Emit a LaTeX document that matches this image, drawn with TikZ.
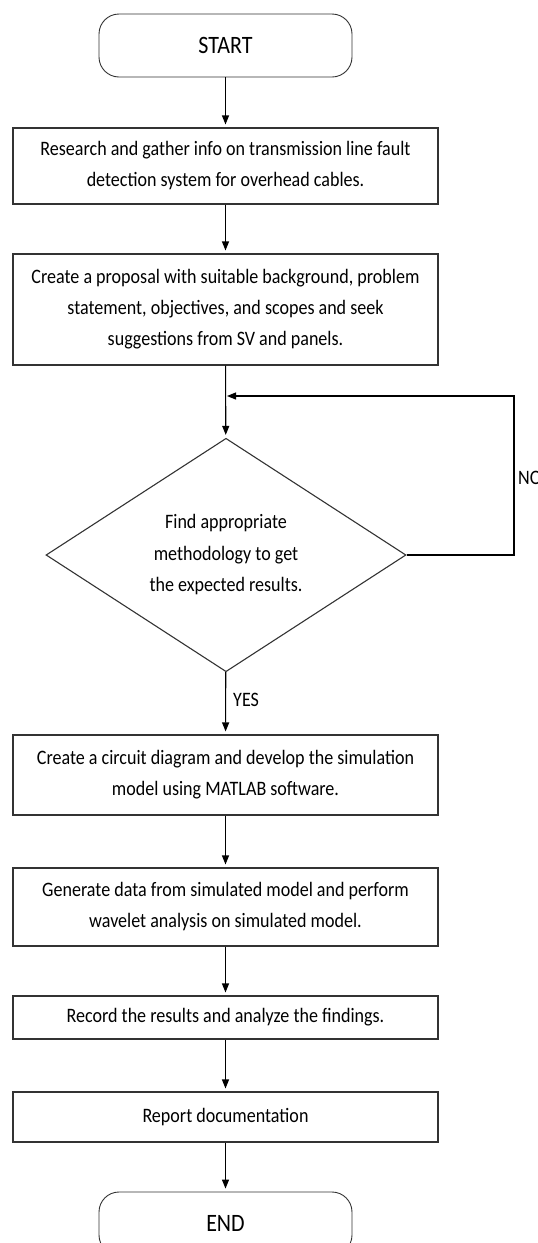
\documentclass[tikz,border=0pt]{standalone}
\usepackage{fontspec}
\setmainfont{Carlito}[FakeStretch=0.88]
\usetikzlibrary{shapes,arrows.meta,positioning,calc}

\tikzset{
  process/.style={draw=black!80, line width=1.1pt, minimum width=425pt, inner sep=0pt,
    align=center, font=\fontsize{20.5}{31}\selectfont},
  terminal/.style={draw=black!80, line width=0.9pt, rounded corners=20pt,
    minimum width=253pt, minimum height=63pt, font=\fontsize{25}{30}\selectfont},
  decision/.style={draw=black!80, line width=1.1pt, diamond, minimum width=360pt,
    minimum height=228pt, inner sep=0pt, align=center, font=\fontsize{20.5}{31.5}\selectfont},
  flow/.style={draw=black, line width=1.1pt, -{Triangle[width=7pt,length=9pt]}, shorten >=3pt},
  tag/.style={font=\fontsize{20.5}{24}\selectfont, anchor=west, inner sep=0pt}
}

\begin{document}
\begin{tikzpicture}[x=1pt, y=-1pt]

\useasboundingbox (0,0) rectangle (538,1243);

% Start
\node[terminal] (start) at (225.5, 45.5) {START};

% Steps
\node[process, minimum height=76pt] (research) at (225.5, 166) {Research and gather info on transmission line fault\\detection system for overhead cables.};
\node[process, minimum height=111pt] (proposal) at (225.5, 309.5) {Create a proposal with suitable background, problem\\statement, objectives, and scopes and seek\\suggestions from SV and panels.};

% Decision
\node[decision] (method) at (226, 555) {Find appropriate\\methodology to get\\the expected results.};

\node[process, minimum height=80pt] (circuit) at (225.5, 775) {Create a circuit diagram and develop the simulation\\model using MATLAB software.};
\node[process, minimum height=78pt] (wavelet) at (225.5, 907) {Generate data from simulated model and perform\\wavelet analysis on simulated model.};
\node[process, minimum height=43pt] (record) at (225.5, 1017.5) {Record the results and analyze the findings.};
\node[process, minimum height=50pt] (report) at (225.5, 1117) {Report documentation};

% End
\node[terminal] (finish) at (225.5, 1223.5) {END};

% Arrows
\draw[flow] (start) -- (research);
\draw[flow] (research) -- (proposal);
\draw[flow] (proposal) -- (method);
\draw[flow] (method) -- node[tag, pos=0.45, xshift=7pt] (yes) {YES} (circuit);
\draw[flow] (circuit) -- (wavelet);
\draw[flow] (wavelet) -- (record);
\draw[flow] (record) -- (report);
\draw[flow] (report) -- (finish);

% Loop back
\coordinate (join) at (226, 396);
\coordinate (loopr) at (514, 396);
\draw[flow, shorten >=1pt] (method.east) -| (loopr) -- (join);
\node[tag] (no) at (518, 478) {NO};

\end{tikzpicture}
\end{document}
